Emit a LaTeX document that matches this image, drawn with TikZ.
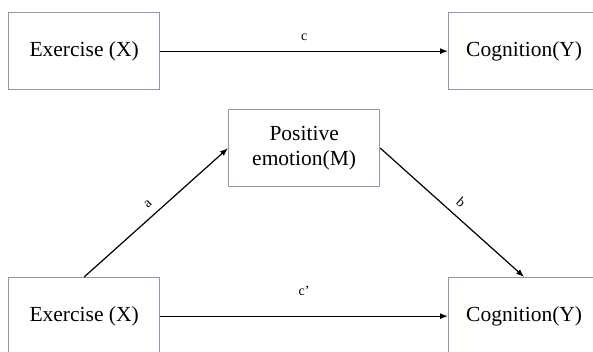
\documentclass[tikz,border=0pt]{standalone}
\usepackage{fontspec}
\setmainfont{Liberation Serif}
\usetikzlibrary{arrows.meta}
\definecolor{boxc}{RGB}{140,152,176}
\begin{document}
\begin{tikzpicture}[x=1pt,y=-1pt,
  box/.style={draw=boxc, line width=1.3pt, fill=white, minimum width=151pt,
    minimum height=77pt, inner sep=0pt, align=center, anchor=north west,
    font=\fontsize{21.5}{25}\selectfont},
  conn/.style={line width=1.2pt, -{Latex[length=8pt,width=6pt]}},
  lbl/.style={font=\fontsize{14}{16}\selectfont, inner sep=0pt}]
\useasboundingbox (0,0) rectangle (593,352);
\clip (0,0) rectangle (593,352);
\node[box] (x1) at (8,12) {Exercise (X)};
\node[box] (y1) at (448,12) {Cognition(Y)};
\node[box] (m) at (228,109) {Positive\\emotion(M)};
\node[box] (x2) at (8,277) {Exercise (X)};
\node[box] (y2) at (448,277) {Cognition(Y)};
\draw[conn] (x1.east) -- node[lbl, above=10pt] (lc) {c} (y1.west);
\draw[conn] (x2.north) -- node[lbl, sloped, above=8pt] (la) {a} (m.west);
\draw[conn] (m.east) -- node[lbl, sloped, above=8pt] (lb) {b} (y2.north);
\draw[conn] (x2.east) -- node[lbl, above=20pt] (lcp) {c’} (y2.west);
\end{tikzpicture}
\end{document}
